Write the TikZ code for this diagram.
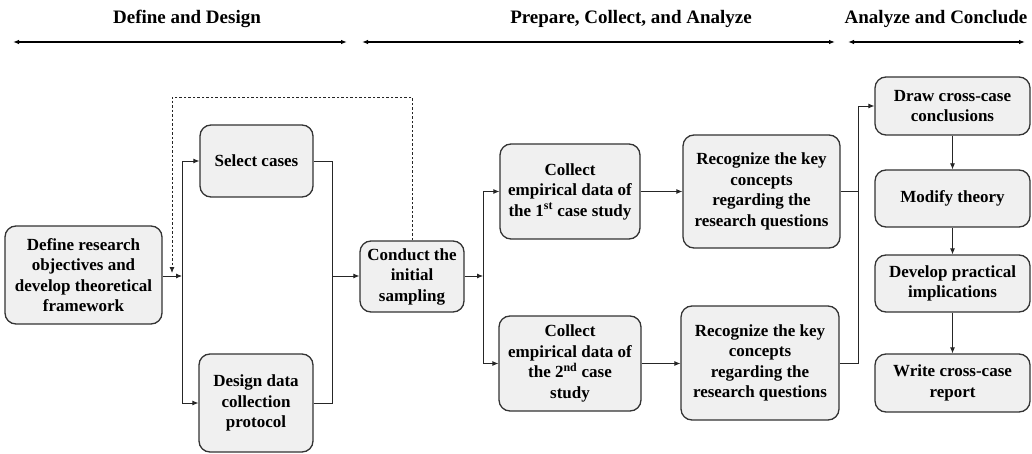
\documentclass[tikz,border=0pt]{standalone}
\usepackage{fontspec}
\setmainfont{Liberation Serif}
\usetikzlibrary{arrows.meta}

\tikzset{
  box/.style={draw=black!80, line width=1.3pt, fill=black!6, rounded corners=11pt,
    align=center, inner sep=0pt, font=\fontsize{17}{20.5}\selectfont\bfseries},
  link/.style={draw=black!85, line width=0.8pt},
  arr/.style={link, -{Latex[length=6pt,width=5pt]}},
  dlink/.style={link, dashed, dash pattern=on 2.5pt off 2pt},
  phase/.style={font=\fontsize{19}{22}\selectfont\bfseries},
  span/.style={line width=1.1pt, {Latex[length=6pt,width=4.5pt]}-{Latex[length=6pt,width=4.5pt]}}
}

\begin{document}
\begin{tikzpicture}[x=1pt,y=-1pt]
\useasboundingbox (0,0) rectangle (1032,454);

% phase headings
\node[phase] (h1) at (187,19) {Define and Design};
\node[phase] (h2) at (631,19) {Prepare, Collect, and Analyze};
\node[phase] (h3) at (936,19) {Analyze and Conclude};
\coordinate (a1l) at (13,42);  \coordinate (a1r) at (347,42);
\coordinate (a2l) at (362,42); \coordinate (a2r) at (835,42);
\coordinate (a3l) at (848,42); \coordinate (a3r) at (1025,42);
\draw[span] (a1l) -- (a1r);
\draw[span] (a2l) -- (a2r);
\draw[span] (a3l) -- (a3r);

% process steps
\node[box, minimum width=157pt, minimum height=98pt] (def) at (83.5,275)
  {Define research\\objectives and\\develop theoretical\\framework};
\node[box, minimum width=113pt, minimum height=72pt] (sel) at (256.5,161) {Select cases};
\node[box, minimum width=114pt, minimum height=98pt] (des) at (256,403)
  {Design data\\collection\\protocol};
\node[box, minimum width=104pt, minimum height=71pt] (con) at (412,276.5)
  {Conduct the\\initial\\sampling};
\node[box, minimum width=140pt, minimum height=95pt] (c1) at (570,191.5)
  {Collect\\empirical data of\\the 1\textsuperscript{st} case study};
\node[box, minimum width=157pt, minimum height=113pt] (r1) at (761.5,191.5)
  {Recognize the key\\concepts\\regarding the\\research questions};
\node[box, minimum width=142pt, minimum height=95pt] (c2) at (570,363.5)
  {Collect\\empirical data of\\the 2\textsuperscript{nd} case\\study};
\node[box, minimum width=158pt, minimum height=114pt] (r2) at (760,363)
  {Recognize the key\\concepts\\regarding the\\research questions};
\node[box, minimum width=155pt, minimum height=58pt] (dr) at (952.5,106) {Draw cross-case\\conclusions};
\node[box, minimum width=155pt, minimum height=57pt] (mo) at (952.5,198.5) {Modify theory};
\node[box, minimum width=155pt, minimum height=57pt] (dv) at (952.5,283.5) {Develop practical\\implications};
\node[box, minimum width=155pt, minimum height=58pt] (wr) at (952.5,383) {Write cross-case\\report};

% junctions
\coordinate (j1) at (182,276);
\coordinate (j2) at (332,276);
\coordinate (j3) at (483,276);
\coordinate (j4) at (858,276);
\coordinate (fb1) at (412,97);
\coordinate (fb2) at (172,97);
\coordinate (fb3) at (172,273);

% design stage
\draw[arr] (def.east |- j1) -- (j1);
\draw[link] (j1) -- (j1 |- sel.west);
\draw[link] (j1) -- (j1 |- des.west);
\draw[arr] (j1 |- sel.west) -- (sel.west);
\draw[arr] (j1 |- des.west) -- (des.west);
\draw[link] (sel.east) -| (j2);
\draw[link] (des.east) -| (j2);
\draw[arr] (j2) -- (con.west |- j2);

% feedback from sampling
\draw[dlink, -{Latex[length=6pt,width=5pt]}] (con.north) -- (fb1) -- (fb2) -- (fb3);

% case studies
\draw[arr] (con.east |- j3) -- (j3);
\draw[link] (j3) -- (j3 |- c1.west);
\draw[link] (j3) -- (j3 |- c2.west);
\draw[arr] (j3 |- c1.west) -- (c1.west);
\draw[arr] (j3 |- c2.west) -- (c2.west);
\draw[arr] (c1.east) -- (r1.west |- c1.east);
\draw[arr] (c2.east) -- (r2.west |- c2.east);

% cross-case analysis
\draw[link] (r1.east) -| (j4);
\draw[link] (r2.east) -| (j4);
\draw[link] (j4) -- (j4 |- dr.west);
\draw[arr] (j4 |- dr.west) -- (dr.west);
\draw[arr] (dr) -- (mo);
\draw[arr] (mo) -- (dv);
\draw[arr] (dv) -- (wr);
\end{tikzpicture}
\end{document}
